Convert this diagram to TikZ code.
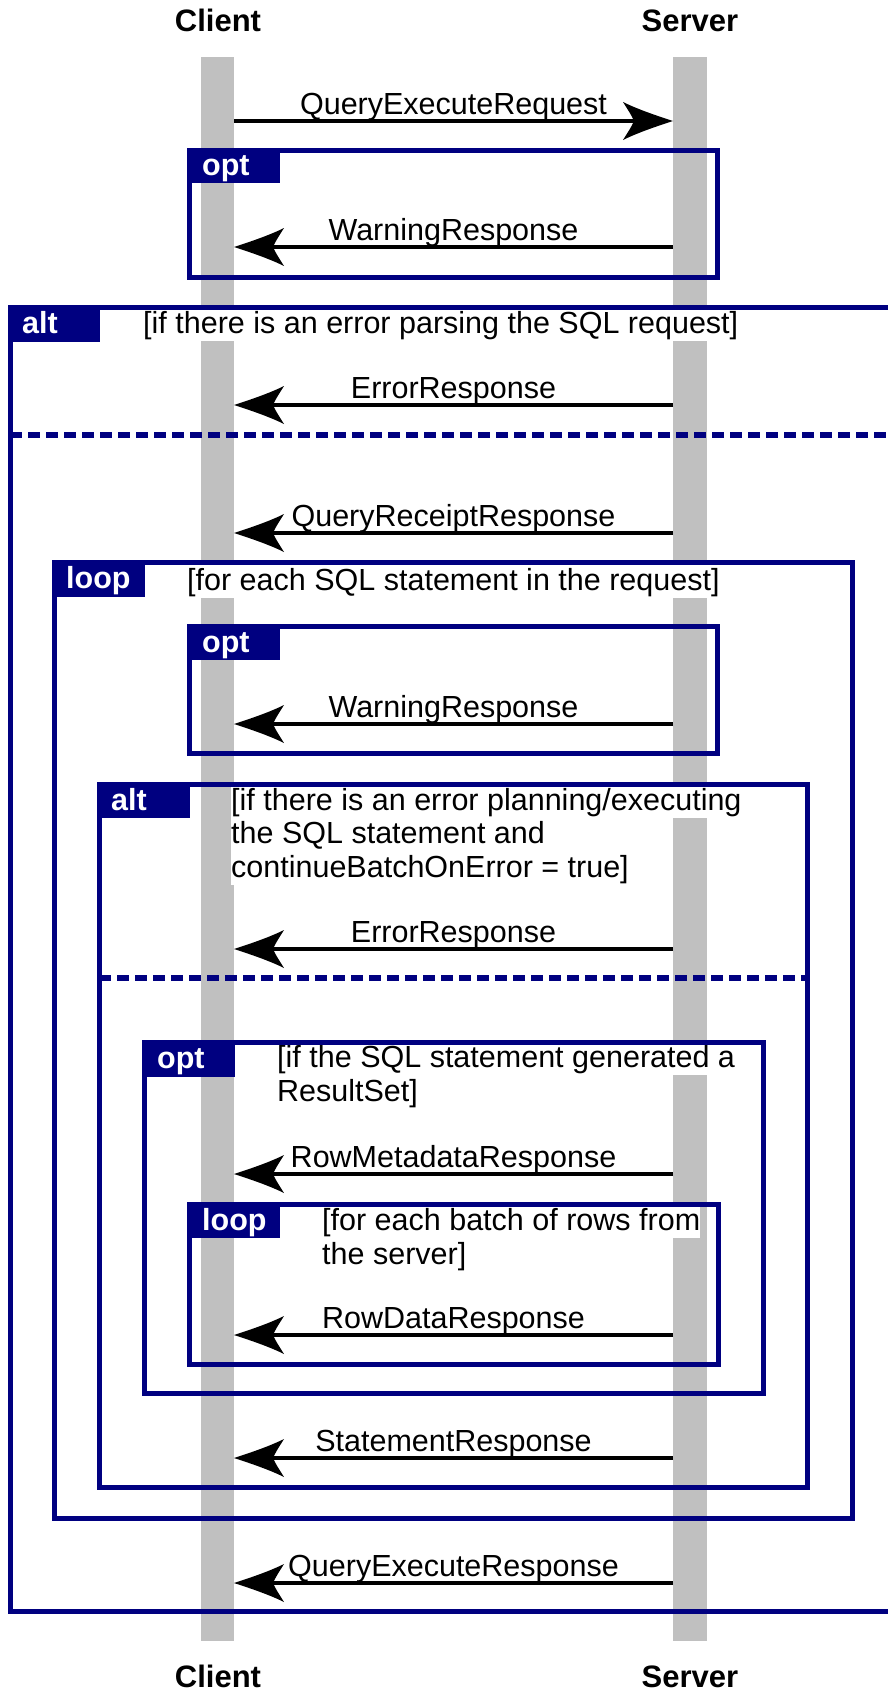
\documentclass[tikz,border=0pt]{standalone}
\usepackage{fontspec}
\setmainfont{Liberation Sans}
\usetikzlibrary{arrows.meta}
\definecolor{framenavy}{RGB}{0,0,128}
\definecolor{lifegray}{RGB}{192,192,192}
\newcommand{\seqtext}{\fontsize{30.5}{34}\selectfont}
\newcommand{\seqtitle}{\fontsize{31}{36}\selectfont\bfseries}

% swept-back message arrow head with curved flanks
\pgfdeclarearrow{
  name = Swept,
  setup code = {
    \pgfarrowssettipend{0pt}
    \pgfarrowssetlineend{-36pt}
    \pgfarrowssetbackend{-50pt}
    \pgfarrowssetvisualbackend{-50pt}
  },
  drawing code = {
    \pgfpathmoveto{\pgfqpoint{0pt}{0pt}}
    \pgfpathcurveto{\pgfqpoint{-17pt}{5.5pt}}{\pgfqpoint{-36pt}{12pt}}{\pgfqpoint{-50pt}{19pt}}
    \pgfpathcurveto{\pgfqpoint{-45pt}{11pt}}{\pgfqpoint{-41pt}{5pt}}{\pgfqpoint{-39pt}{0pt}}
    \pgfpathcurveto{\pgfqpoint{-41pt}{-5pt}}{\pgfqpoint{-45pt}{-11pt}}{\pgfqpoint{-50pt}{-19pt}}
    \pgfpathcurveto{\pgfqpoint{-36pt}{-12pt}}{\pgfqpoint{-17pt}{-5.5pt}}{\pgfqpoint{0pt}{0pt}}
    \pgfpathclose
    \pgfusepathqfill
  }
}

\begin{document}
\begin{tikzpicture}[x=1pt,y=-1pt,
  lifeline/.style={fill=lifegray, draw=none, inner sep=0pt, minimum width=33.5pt, minimum height=1584pt},
  frame/.style={draw=framenavy, line width=5pt},
  divider/.style={draw=framenavy, line width=6pt, dash pattern=on 12pt off 6pt},
  tabfill/.style={fill=framenavy},
  tabtext/.style={anchor=base west, inner sep=0pt, text=white, font=\seqtext\bfseries},
  guard/.style={anchor=base west, inner sep=0pt, fill=white, text height=26pt, text depth=8pt, font=\seqtext},
  msg/.style={draw=black, line width=4pt, -{Swept}},
  msglabel/.style={anchor=base, inner sep=0pt, yshift=7pt, font=\seqtext},
  title/.style={anchor=base, inner sep=0pt, font=\seqtitle}
]
\clip (0,0) rectangle (888,1691);
\fill[white] (0,0) rectangle (888,1691);

% lifelines
\node[lifeline] (clientLife) at (217.5,849) {};
\node[lifeline] (serverLife) at (690,849) {};

% participant names
\node[title] (clientTop) at (218,32) {Client};
\node[title] (serverTop) at (690,32) {Server};
\node[title] (clientBot) at (218,1687) {Client};
\node[title] (serverBot) at (690,1687) {Server};

% guard conditions (white backing hides the lifelines)
\node[guard] (g1) at (143,333) {[if there is an error parsing the SQL request]};
\node[guard] (g2) at (187,590) {[for each SQL statement in the request]};
\node[guard] (g3a) at (231,810) {[if there is an error planning/executing};
\node[guard] (g3b) at (231,843.5) {the SQL statement and};
\node[guard] (g3c) at (231,877) {continueBatchOnError = true]};
\node[guard] (g4a) at (277,1067) {[if the SQL statement generated a};
\node[guard] (g4b) at (277,1101) {ResultSet]};
\node[guard] (g5a) at (322,1230) {[for each batch of rows from};
\node[guard] (g5b) at (322,1264) {the server]};

% combined fragments
\draw[frame] (189,150) rectangle (717,277);
\fill[tabfill] (189,150) rectangle (280,183);
\node[tabtext] (t1) at (202,175) {opt};

\draw[frame] (10,307) rectangle (900,1611);
\fill[tabfill] (10,307) rectangle (100,342);
\node[tabtext] (t2) at (22,333) {alt};
\draw[divider] (10,435) -- (900,435);

\draw[frame] (54,562) rectangle (852,1518);
\fill[tabfill] (54,562) rectangle (145,597);
\node[tabtext] (t3) at (66,588) {loop};

\draw[frame] (189,626) rectangle (717,753);
\fill[tabfill] (189,626) rectangle (280,660);
\node[tabtext] (t4) at (202,652) {opt};

\draw[frame] (99,784) rectangle (807,1487);
\fill[tabfill] (99,784) rectangle (190,818);
\node[tabtext] (t5) at (111,810) {alt};
\draw[divider] (99,978) -- (807,978);

\draw[frame] (144.5,1042) rectangle (763.5,1393);
\fill[tabfill] (144.5,1042) rectangle (235,1077);
\node[tabtext] (t6) at (157,1068) {opt};

\draw[frame] (189,1204) rectangle (718,1364);
\fill[tabfill] (189,1204) rectangle (280,1238);
\node[tabtext] (t7) at (202,1230) {loop};

% message end points on the lifelines
\coordinate (c1) at (234,121);  \coordinate (s1) at (673,121);
\coordinate (c2) at (234,247);  \coordinate (s2) at (673,247);
\coordinate (c3) at (234,405);  \coordinate (s3) at (673,405);
\coordinate (c4) at (234,533);  \coordinate (s4) at (673,533);
\coordinate (c5) at (234,724);  \coordinate (s5) at (673,724);
\coordinate (c6) at (234,949);  \coordinate (s6) at (673,949);
\coordinate (c7) at (234,1174); \coordinate (s7) at (673,1174);
\coordinate (c8) at (234,1335); \coordinate (s8) at (673,1335);
\coordinate (c9) at (234,1458); \coordinate (s9) at (673,1458);
\coordinate (c10) at (234,1583); \coordinate (s10) at (673,1583);

% messages
\draw[msg] (c1) -- node[msglabel] {QueryExecuteRequest} (s1);
\draw[msg] (s2) -- node[msglabel] {WarningResponse} (c2);
\draw[msg] (s3) -- node[msglabel] {ErrorResponse} (c3);
\draw[msg] (s4) -- node[msglabel] {QueryReceiptResponse} (c4);
\draw[msg] (s5) -- node[msglabel] {WarningResponse} (c5);
\draw[msg] (s6) -- node[msglabel] {ErrorResponse} (c6);
\draw[msg] (s7) -- node[msglabel] {RowMetadataResponse} (c7);
\draw[msg] (s8) -- node[msglabel] {RowDataResponse} (c8);
\draw[msg] (s9) -- node[msglabel] {StatementResponse} (c9);
\draw[msg] (s10) -- node[msglabel] {QueryExecuteResponse} (c10);
\end{tikzpicture}
\end{document}
